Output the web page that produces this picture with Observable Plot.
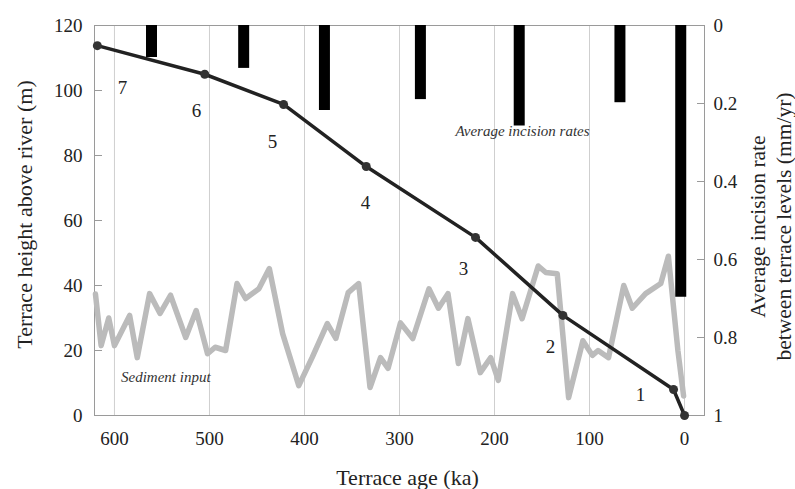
<!DOCTYPE html>
<html>
<head>
<meta charset="utf-8">
<script src="https://cdn.jsdelivr.net/npm/d3@7"></script>
<script src="https://cdn.jsdelivr.net/npm/@observablehq/plot@0.6"></script>
<style>
  html, body { margin: 0; padding: 0; background: #fff; }
</style>
</head>
<body>
<div id="chart"></div>
<script>
// Terrace levels (age in ka, height above river in m)
const terraceAge    = [618, 505, 422, 335, 220, 128, 11.6, 0];
const terraceHeight = [113.8, 105, 95.7, 76.6, 54.8, 30.8, 8, 0];

// Terrace number labels and where they sit (age, height)
const terraceLabel       = ["7", "6", "5", "4", "3", "2", "1"];
const terraceLabelAge    = [591.6, 513.7, 433.7, 335.8, 232.6, 141, 46.3];
const terraceLabelHeight = [100.9, 93.8, 84.3, 65.5, 45.2, 21.2, 6.2];

// Average incision rate between terrace levels (mm/yr), at mid age (ka)
const barAge  = [561, 464, 379, 278, 174, 68, 4];
const barRate = [0.082, 0.11, 0.218, 0.19, 0.258, 0.198, 0.697];

// Sediment input curve (age ka, plotted on the left height axis)
const sedAge = [620, 614, 606, 600, 584, 576, 563, 552, 541, 525, 514, 502, 494, 483,
  471, 462, 448, 437, 423, 406, 392, 376, 367, 354, 343, 331, 320, 312, 299, 286,
  269, 259, 249, 238, 228, 215, 204, 196, 181, 171, 154, 146, 134, 122, 107, 97, 91,
  80, 64, 55, 41, 25, 17, 7, 1];
const sedValue = [37.4, 21.5, 30, 21.5, 30.8, 17.8, 37.5, 31.4, 37, 24, 32.3, 19, 21, 20,
  40.6, 36, 39, 45.2, 25.2, 9.2, 17.8, 28.3, 23.7, 37.8, 40.6, 8.6, 17.8, 14.5, 28.5, 23.7,
  39, 33, 37.5, 16, 29.8, 13.2, 17.8, 10.8, 37.5, 29.8, 46, 44, 43.6, 5.5, 23, 18.5, 20,
  17.8, 40, 33, 37.5, 40.6, 49, 20, 6];

// Axis ticks
const xTicks = [600, 500, 400, 300, 200, 100, 0];
const yTicks = [0, 20, 40, 60, 80, 100, 120];
const rateTicks = [0, 0.2, 0.4, 0.6, 0.8, 1];

const yMax = 120;
const terrace = terraceAge.map((a, i) => ({age: a, h: terraceHeight[i]}));
const labels = terraceLabel.map((t, i) => ({t, age: terraceLabelAge[i], h: terraceLabelHeight[i]}));
const bars = barAge.map((a, i) => ({age: a, rate: barRate[i]}));
const sed = sedAge.map((a, i) => ({age: a, v: sedValue[i]}));
const rateToY = r => yMax * (1 - r);

const serif = "'Liberation Serif', 'Times New Roman', 'DejaVu Serif', serif";

const chart = Plot.plot({
  width: 795,
  height: 489,
  marginLeft: 94,
  marginRight: 91,
  marginTop: 25,
  marginBottom: 74,
  style: {fontFamily: serif, fontSize: "19px", color: "#222", background: "#fff"},
  x: {domain: [621, -21], axis: null},
  y: {domain: [0, yMax], axis: null},
  marks: [
    Plot.ruleX(xTicks, {stroke: "#cfcfcf", strokeWidth: 1}),
    Plot.frame({stroke: "#9a9a9a", strokeWidth: 1}),
    Plot.line(sed, {x: "age", y: "v", stroke: "#bbbbbb", strokeWidth: 5.5, strokeLinejoin: "round", strokeLinecap: "round"}),
    Plot.ruleX(bars, {x: "age", y1: () => yMax, y2: d => rateToY(d.rate), stroke: "#000", strokeWidth: 11}),
    Plot.line(terrace, {x: "age", y: "h", stroke: "#222", strokeWidth: 3.5, strokeLinejoin: "round"}),
    Plot.dot(terrace, {x: "age", y: "h", r: 4.5, fill: "#333", stroke: "none"}),
    Plot.text(labels, {x: "age", y: "h", text: "t", fontSize: 19, fill: "#222", fontFamily: serif}),
    Plot.text(["Average incision rates"], {x: () => 170.5, y: () => 87.4, fontSize: 15, fontStyle: "italic", fill: "#333", fontFamily: serif}),
    Plot.text(["Sediment input"], {x: () => 546, y: () => 11.7, fontSize: 15, fontStyle: "italic", fill: "#333", fontFamily: serif}),
    // axes
    Plot.axisX(xTicks, {anchor: "bottom", tickSize: 0, tickPadding: 16, fontSize: 19, label: null, fill: "#222", fontFamily: serif}),
    Plot.axisY(yTicks, {anchor: "left", tickSize: -8, tickPadding: 20, fontSize: 19, label: null, stroke: "#9a9a9a", fill: "#222", fontFamily: serif}),
    Plot.axisY(rateTicks, {anchor: "right", y: rateToY, tickFormat: r => String(r), tickSize: -8, tickPadding: 17, fontSize: 19, label: null, stroke: "#9a9a9a", fill: "#222", fontFamily: serif}),
    // axis titles
    Plot.text(["Terrace height above river (m)"], {frameAnchor: "left", dx: -70, dy: -6, rotate: -90, fontSize: 22, fill: "#222", textAnchor: "middle", lineAnchor: "middle", fontFamily: serif}),
    Plot.text(["Average incision rate\nbetween terrace levels (mm/yr)"], {frameAnchor: "right", dx: 65, dy: 6, rotate: -90, fontSize: 21.5, lineHeight: 1.2, fill: "#222", textAnchor: "middle", lineAnchor: "middle", fontFamily: serif}),
    Plot.text(["Terrace age (ka)"], {frameAnchor: "bottom", dx: 8, dy: 62, fontSize: 22, fill: "#222", textAnchor: "middle", lineAnchor: "middle", fontFamily: serif})
  ]
});
document.getElementById("chart").appendChild(chart);
</script>
</body>
</html>
